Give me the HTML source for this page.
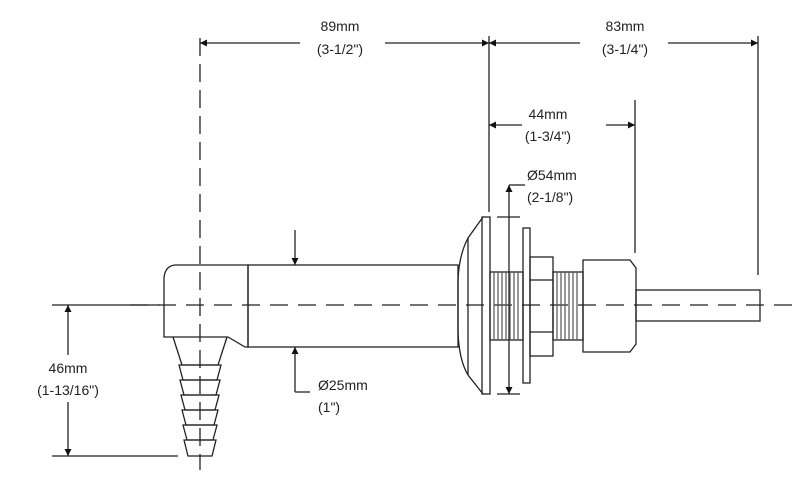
<!DOCTYPE html>
<html><head><style>
html,body{margin:0;padding:0;background:#fff}
svg{display:block}
text{font-family:"Liberation Sans",sans-serif;font-size:14px;fill:#222}
</style></head><body>
<svg width="800" height="497" viewBox="0 0 800 497" xmlns="http://www.w3.org/2000/svg">
<defs>
<marker id="a" viewBox="0 0 10 10" refX="10" refY="5" markerWidth="14" markerHeight="7" orient="auto-start-reverse" markerUnits="userSpaceOnUse"><path d="M0,0L10,5L0,10z" fill="#111"/></marker>
</defs>
<g stroke="#222" stroke-width="1.3" fill="none">
<line x1="130" y1="305" x2="800" y2="305" stroke-dasharray="18,10"/>
<line x1="200" y1="38" x2="200" y2="470" stroke-dasharray="18,8"/>
<line x1="489" y1="36" x2="489" y2="212"/>
<line x1="758" y1="36" x2="758" y2="275"/>
<line x1="635" y1="100" x2="635" y2="253"/>
<line x1="52" y1="305" x2="160" y2="305"/>
<line x1="52" y1="456" x2="178" y2="456"/>
<line x1="200" y1="43" x2="300" y2="43" marker-start="url(#a)"/>
<line x1="385" y1="43" x2="489" y2="43" marker-end="url(#a)"/>
<line x1="489" y1="43" x2="580" y2="43" marker-start="url(#a)"/>
<line x1="668" y1="43" x2="758" y2="43" marker-end="url(#a)"/>
<line x1="489" y1="125" x2="522" y2="125" marker-start="url(#a)"/>
<line x1="606" y1="125" x2="635" y2="125" marker-end="url(#a)"/>
<line x1="497" y1="217" x2="520" y2="217"/>
<line x1="497" y1="394" x2="520" y2="394"/>
<line x1="509" y1="185" x2="509" y2="394" marker-start="url(#a)" marker-end="url(#a)"/>
<line x1="509" y1="185" x2="525" y2="185"/>
<line x1="68" y1="305" x2="68" y2="355" marker-start="url(#a)"/>
<line x1="68" y1="402" x2="68" y2="456" marker-end="url(#a)"/>
<line x1="295" y1="230" x2="295" y2="265" marker-end="url(#a)"/>
<line x1="295" y1="347" x2="295" y2="392" marker-start="url(#a)"/>
<line x1="295" y1="392" x2="310" y2="392"/>
<path d="M248,265 L175,265 Q165,266 164,278 L164,337 L228,337 L245,347 L248,347 Z"/>
<rect x="248" y="265" width="210" height="82"/>
<path d="M173,337 L182,365 L218,365 L227,337"/>
<path d="M179,365 L183,380 L217,380 L221,365 Z"/>
<path d="M180,380 L184,395 L216,395 L220,380 Z"/>
<path d="M181,395 L185,410 L215,410 L219,395 Z"/>
<path d="M182,410 L186,425 L214,425 L218,410 Z"/>
<path d="M183,425 L187,440 L213,440 L217,425 Z"/>
<path d="M184,440 L188,456 L212,456 L216,440 Z"/>
<path d="M483,217 L468,238 Q459,255 458,280 L458,332 Q459,360 468,375 L483,394"/>
<line x1="468" y1="238" x2="468" y2="375"/>
<rect x="482" y="217" width="8" height="177"/>
<rect x="490" y="272" width="33" height="68"/>
<rect x="523" y="228" width="7" height="155"/>
<rect x="530" y="257" width="23" height="99"/>
<line x1="530" y1="280" x2="553" y2="280"/>
<line x1="530" y1="332" x2="553" y2="332"/>
<rect x="553" y="272" width="30" height="68"/>
<path d="M583,260 L630,260 L636,268 L636,344 L630,352 L583,352 Z"/>
<rect x="636" y="290" width="124" height="31"/>
</g>
<g stroke="#555" stroke-width="1.2">
<path d="M494,272V340M498,272V340M502,272V340M506,272V340M510,272V340M514,272V340M518,272V340"/>
<path d="M557,272V340M561,272V340M565,272V340M569,272V340M573,272V340M577,272V340"/>
</g>
<g text-anchor="middle">
<text x="340" y="31">89mm</text><text x="340" y="54">(3-1/2")</text>
<text x="625" y="31">83mm</text><text x="625" y="54">(3-1/4")</text>
<text x="548" y="119">44mm</text><text x="548" y="141">(1-3/4")</text>
<text x="68" y="373">46mm</text><text x="68" y="395">(1-13/16")</text>
</g>
<text x="527" y="180">Ø54mm</text><text x="527" y="202">(2-1/8")</text>
<text x="318" y="390">Ø25mm</text><text x="318" y="412">(1")</text>
</svg>
</body></html>
